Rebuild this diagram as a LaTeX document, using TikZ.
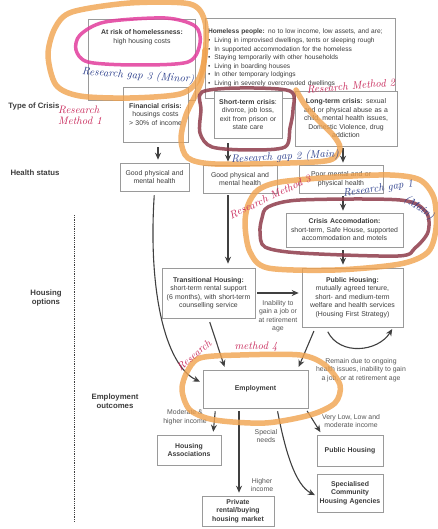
\documentclass[tikz,border=0pt]{standalone}
\usepackage{fontspec}
\newfontfamily\diagfont{Liberation Sans}
\usetikzlibrary{arrows.meta,calc}
\definecolor{txt}{HTML}{3C3C3C}
\definecolor{lbltxt}{HTML}{555555}
\definecolor{boxc}{HTML}{9A9A9A}
\definecolor{arrc}{HTML}{404040}
\definecolor{hlorange}{HTML}{F0A24E}
\definecolor{maroonink}{HTML}{8E3B4A}
\definecolor{magentaink}{HTML}{E23C9C}
\definecolor{blueink}{HTML}{2B3E8C}
\definecolor{redink}{HTML}{C8285A}
\begin{document}
\begin{tikzpicture}[x=1pt,y=-1pt,
  box/.style={draw=boxc, line width=0.6pt, fill=white, inner sep=0pt, align=center,
    font=\diagfont\fontsize{6.9}{8.5}\selectfont, text=txt},
  boxl/.style={box, align=left, font=\diagfont\fontsize{6.6}{8.6}\selectfont},
  lbl/.style={inner sep=0pt, align=center, font=\diagfont\fontsize{6.9}{8.5}\selectfont, text=lbltxt},
  rowlbl/.style={inner sep=0pt, align=center, font=\diagfont\bfseries\fontsize{7.8}{9.5}\selectfont, text=txt},
  arr/.style={draw=arrc, line width=1.1pt, -{Stealth[length=7pt,width=6pt]}},
  hand/.style={inner sep=0pt, font=\itshape\fontsize{10.8}{11}\selectfont},
  hl/.style={draw=hlorange, line width=5.5pt, opacity=0.8, line cap=round, line join=round},
  ring/.style={line width=3.5pt, opacity=0.85, line cap=round, line join=round}
]
\useasboundingbox (0,0) rectangle (437,529);

% ---------- boxes ----------
\node[box, minimum width=107, minimum height=81, text width=100] (risk) at (141.5,59.5) {};
\node[lbl, text=txt] (riskt) at (142,37) {\textbf{At risk of homelessness:}\\high housing costs};
\node[boxl, minimum width=190, minimum height=80, text width=184] (home) at (300,58) {%
\textbf{Homeless people:} no to low income, low assets, and are;\\
\textbullet\hspace{4pt}Living in improvised dwellings, tents or sleeping rough\\
\textbullet\hspace{4pt}In supported accommodation for the homeless\\
\textbullet\hspace{4pt}Staying temporarily with other households\\
\textbullet\hspace{4pt}Living in boarding houses\\
\textbullet\hspace{4pt}In other temporary lodgings\\
\textbullet\hspace{4pt}Living in severely overcrowded dwellings};
\node[box, minimum width=65, minimum height=55, text width=62] (fin) at (155.5,114.5) {\textbf{Financial crisis:}\\housings costs\\> 30\% of income};
\node[box, minimum width=68, minimum height=47, text width=64] (short) at (248,114.5) {\textbf{Short-term crisis}:\\divorce, job loss,\\exit from prison or\\state care};
\node[box, minimum width=102, minimum height=55, text width=98] (long) at (346,118.5) {\textbf{Long-term crisis:} sexual\\and or physical abuse as a\\child, mental health issues,\\Domestic Violence, drug\\addiction};

\node[box, minimum width=69, minimum height=28, text width=66] (good1) at (154.5,177) {Good physical and\\mental health};
\node[box, minimum width=74, minimum height=28, text width=70] (good2) at (240,179) {Good physical and\\mental health};
\node[box, minimum width=84, minimum height=28, text width=80] (poor) at (341,179) {Poor mental and or\\physical health};

\node[box, minimum width=117, minimum height=34, text width=113] (crisis) at (344.5,230) {\textbf{Crisis Accomodation:}\\short-term, Safe House, supported\\accommodation and motels};
\node[box, minimum width=93, minimum height=50, text width=90] (trans) at (208.5,293) {\textbf{Transitional Housing:}\\short-term rental support\\(6 months), with short-term\\counselling service};
\node[box, minimum width=101, minimum height=59, text width=98] (pub) at (352.5,297.5) {\textbf{Public Housing:}\\mutually agreed tenure,\\short- and medium-term\\welfare and health services\\(Housing First Strategy)};

\node[box, minimum width=105, minimum height=38, text width=100] (emp) at (255.5,389) {\textbf{Employment}};
\node[box, minimum width=64, minimum height=30, text width=60] (ha) at (189,450) {\textbf{Housing}\\\textbf{Associations}};
\node[box, minimum width=72, minimum height=30, text width=68] (priv) at (238,511) {\textbf{Private}\\\textbf{rental/buying}\\\textbf{housing market}};
\node[box, minimum width=66, minimum height=31, text width=62] (pubh) at (350,450.5) {\textbf{Public Housing}};
\node[box, minimum width=66, minimum height=38, text width=64] (spec) at (350,493) {\textbf{Specialised}\\\textbf{Community}\\\textbf{Housing Agencies}};

% ---------- row labels ----------
\node[rowlbl] (rl1) at (34,106) {Type of Crisis};
\node[rowlbl] (rl2) at (35,173) {Health status};
\node[rowlbl] (rl3) at (46,298) {Housing\\options};
\node[rowlbl] (rl4) at (115,401) {Employment\\outcomes};
\coordinate (dtop) at (74,215);
\coordinate (dbot) at (74,522);
\draw[arrc, line width=0.9pt, dash pattern=on 0.9pt off 0.9pt] (dtop) -- (dbot);

% ---------- connectors ----------
\draw[arr, shorten <=5pt, shorten >=3pt] ([xshift=2.5pt]fin.south) -- ([xshift=2.5pt]fin.south |- good1.north);
\draw[arr, shorten <=5pt, shorten >=3pt] ([xshift=-20pt]short.south) -- ([xshift=-20pt]short.south |- good2.north);
\draw[arr, shorten <=2pt, shorten >=2pt] ([xshift=-3pt]long.south) -- ([xshift=-3pt]long.south |- poor.north);
\draw[arr, shorten <=3pt, shorten >=2pt] ([xshift=2pt]poor.south) -- ([xshift=2pt]poor.south |- crisis.north);
\draw[arr, shorten <=3pt, shorten >=3pt] ([xshift=-1.5pt]crisis.south) -- ([xshift=-1.5pt]crisis.south |- pub.north);
\draw[arr, shorten <=2pt, shorten >=4pt] ([xshift=-12pt]good2.south) -- ([xshift=-12pt]good2.south |- trans.north);
\draw[arr, shorten <=2pt, shorten >=3pt] (trans.east) -- (trans.east -| pub.west);
\node[lbl] (lab1) at (278,316) {Inability to\\gain a job or\\at retirement\\age};

\draw[arr, shorten <=4pt, shorten >=3pt] (trans.south) -- ([xshift=-30pt]emp.north);
\draw[arr, shorten <=4pt, shorten >=3pt] ([xshift=-37pt]pub.south) -- ([xshift=42pt]emp.north);
\draw[arr, shorten <=4pt, shorten >=3pt] (good1.south) .. controls (148,290) and (165,365) .. ([yshift=6pt]emp.west);
\draw[arr, shorten <=5pt, shorten >=2pt] ([xshift=-27pt]pub.south) .. controls (340,356) and (378,352) .. ([xshift=-10pt]pub.south east);
\node[lbl] (lab2) at (361,370) {Remain due to ongoing\\health issues, inability to gain\\a job, or at retirement age};

\draw[arr, shorten <=3pt, shorten >=3pt] ([xshift=-40pt]emp.south) -- ([xshift=24pt]ha.north);
\draw[arr, shorten <=3pt, shorten >=3pt] ([xshift=-16.5pt]emp.south) -- ([xshift=-16.5pt]emp.south |- priv.north);
\draw[arr, shorten <=3pt, shorten >=3pt] ([xshift=50pt]emp.south) -- ([xshift=-28pt]pubh.north);
\draw[arr, shorten <=3pt, shorten >=2pt] ([xshift=21.5pt]emp.south) .. controls (285,450) and (295,485) .. ([yshift=-3pt]spec.west);
\node[lbl] (lab3) at (185,417) {Moderate \&\\higher income};
\node[lbl] (lab4) at (262,485) {Higher\\income};
\node[lbl] (lab5) at (351,421) {Very Low, Low and\\moderate income};
\node[lbl] (lab6) at (266,436) {Special\\needs};

% ---------- hand annotations ----------
\draw[hl] plot[smooth cycle] coordinates {(72,12) (130,3) (190,4) (205,22) (205,55) (198,80) (180,94) (130,98) (80,96) (56,85) (48,55) (55,28)};
\draw[hl] plot[smooth] coordinates {(205,50) (201,82) (186,115) (181,140) (188,158) (215,164) (290,163) (330,160) (340,148) (333,135) (318,120) (305,105) (296,90)};
\draw[hl] plot[smooth cycle] coordinates {(258,190) (280,182) (335,177) (390,175) (420,180) (434,198) (436,228) (428,252) (400,264) (335,270) (268,268) (250,252) (245,225) (248,205)};
\draw[hl] plot[smooth cycle] coordinates {(187,372) (200,358) (240,355) (300,355) (325,365) (340,385) (335,403) (310,415) (265,423) (215,420) (190,410) (182,390)};

\draw[ring, draw=maroonink] plot[smooth cycle] coordinates {(202,92) (240,88) (290,91) (293,110) (290,128) (285,147) (250,150) (212,147) (200,133) (201,110)};
\draw[ring, draw=maroonink] plot[smooth cycle] coordinates {(268,207) (300,200) (400,200) (426,212) (428,232) (415,248) (398,256) (300,253) (265,247) (260,232) (262,218)};
\draw[ring, draw=magentaink] plot[smooth cycle] coordinates {(80,35) (105,22) (165,18) (195,26) (200,43) (188,62) (135,65) (88,62) (76,50)};

\node[hand, text=blueink, rotate=-4] (n1) at (138,76) {Research gap 3 (Minor)};
\node[hand, text=redink, align=left] (n2) at (80,115) {Research\\Method 1};
\node[hand, text=redink, rotate=5] (n3) at (351,86) {Research Method 2};
\node[hand, text=blueink, rotate=3] (n4) at (285,157) {Research gap 2 (Main)};
\node[hand, text=redink, rotate=25] (n5) at (270,197) {Research Method 3};
\node[hand, text=blueink, rotate=8] (n6) at (378,189) {Research gap 1};
\node[hand, text=blueink, rotate=-35] (n7) at (419,208) {(Main)};
\node[hand, text=redink, rotate=40] (n8) at (194,355) {Research};
\node[hand, text=redink] (n9) at (256,347) {method 4};
\end{tikzpicture}
\end{document}
